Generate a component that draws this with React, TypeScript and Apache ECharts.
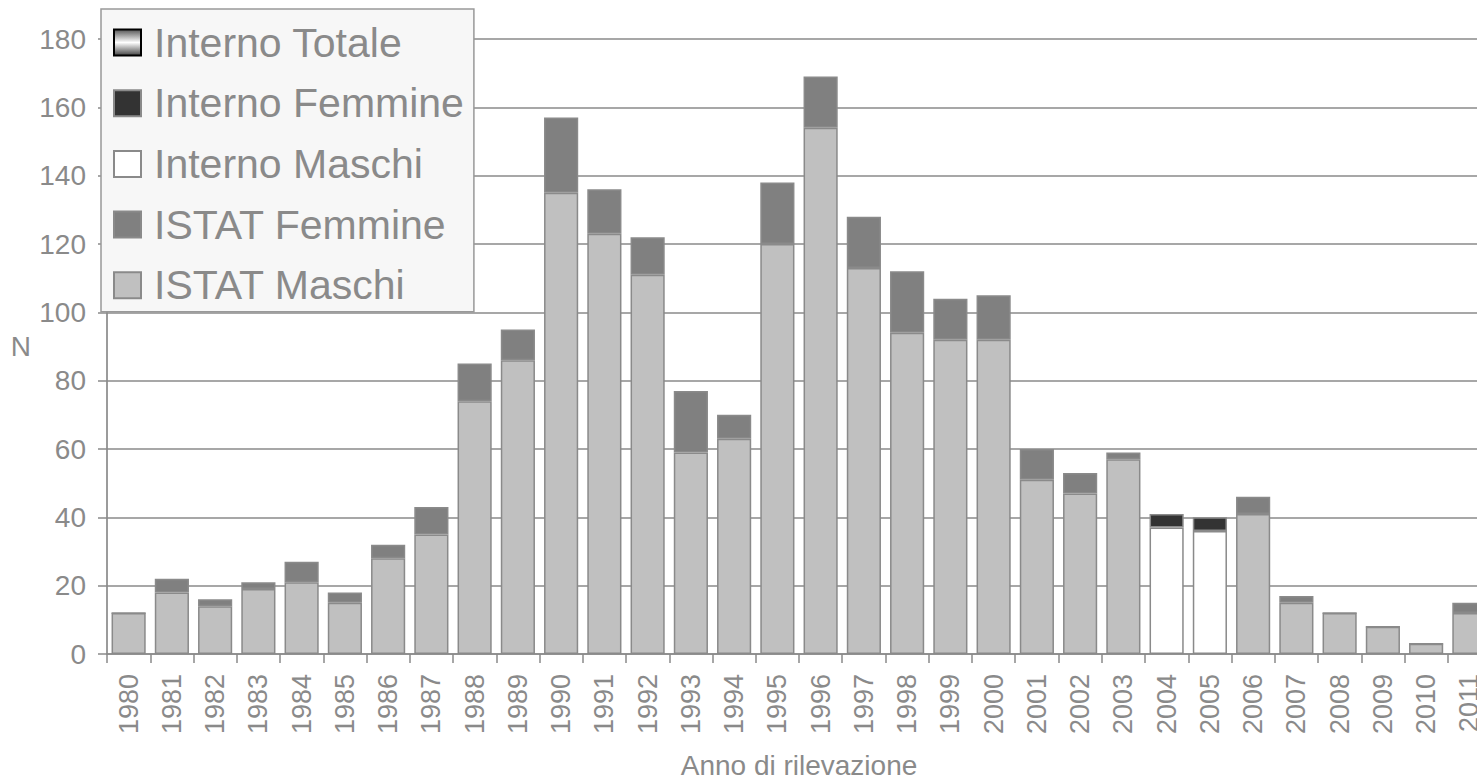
import React, { useEffect, useRef } from "react";
import * as echarts from "echarts";

const years = [
  "1980","1981","1982","1983","1984","1985","1986","1987","1988","1989",
  "1990","1991","1992","1993","1994","1995","1996","1997","1998","1999",
  "2000","2001","2002","2003","2004","2005","2006","2007","2008","2009",
  "2010","2011",
];
const istatMaschi = [12,18,14,19,21,15,28,35,74,86,135,123,111,59,63,120,154,113,94,92,92,51,47,57,null,null,41,15,12,8,3,12];
const istatFemmine = [0,4,2,2,6,3,4,8,11,9,22,13,11,18,7,18,15,15,18,12,13,9,6,2,null,null,5,2,0,0,0,3];
const internoMaschi = [null,null,null,null,null,null,null,null,null,null,null,null,null,null,null,null,null,null,null,null,null,null,null,null,37,36,null,null,null,null,null,null];
const internoFemmine = [null,null,null,null,null,null,null,null,null,null,null,null,null,null,null,null,null,null,null,null,null,null,null,null,4,4,null,null,null,null,null,null];
const internoTotale: (number | null)[] = years.map(() => null);
const yTicks = { min: 0, max: 180, interval: 20 };

const FONT = '"Liberation Sans", Arial, sans-serif';
const TXT = "#8a8a8a";
const LINE = "#8a8a8a";

export default function App() {
  const ref = useRef<HTMLDivElement>(null);
  useEffect(() => {
    if (!ref.current) return;
    const chart = echarts.init(ref.current, null, { renderer: "svg" });
    const border = { borderColor: LINE, borderWidth: 1.5 };
    const bar = (name: string, data: (number | null)[], color: any, extra: any = {}) => ({
      name,
      type: "bar",
      stack: "tot",
      data,
      barWidth: "79%",
      itemStyle: { color, ...border, ...extra },
    });
    chart.setOption({
      animation: false,
      backgroundColor: "#ffffff",
      textStyle: { fontFamily: FONT },
      grid: { left: 107, right: 29, top: 39, bottom: 129, outerBoundsMode: "none", containLabel: false },
      legend: {
        orient: "vertical",
        left: 101,
        top: 9,
        itemWidth: 27,
        itemHeight: 26,
        itemGap: 19.7,
        padding: [13, 10, 6, 12],
        backgroundColor: "#f7f7f7",
        borderColor: "#999999",
        borderWidth: 1.5,
        borderRadius: 0,
        icon: "rect",
        data: ["Interno Totale", "Interno Femmine", "Interno Maschi", "ISTAT Femmine", "ISTAT Maschi"],
        textStyle: { fontSize: 41, lineHeight: 40, color: TXT, fontFamily: FONT, padding: [0, 0, 0, 8] },
      },
      xAxis: {
        type: "category",
        data: years,
        name: "Anno di rilevazione",
        nameLocation: "middle",
        nameGap: 97,
        nameTextStyle: { fontSize: 28, color: TXT, fontFamily: FONT },
        axisLine: { lineStyle: { color: LINE, width: 1.7 } },
        axisTick: { show: true, length: 9, lineStyle: { color: LINE, width: 1.5 } },
        axisLabel: { rotate: 90, fontSize: 27, color: TXT, margin: 20, fontFamily: FONT, interval: 0 },
      },
      yAxis: {
        type: "value",
        min: yTicks.min,
        max: yTicks.max,
        interval: yTicks.interval,
        name: "N",
        nameLocation: "middle",
        nameRotate: 0,
        nameGap: 76,
        nameTextStyle: { fontSize: 28, color: TXT, fontFamily: FONT },
        axisLine: { show: true, lineStyle: { color: LINE, width: 1.7 } },
        axisTick: { show: true, length: 9, lineStyle: { color: LINE, width: 1.5 } },
        axisLabel: { fontSize: 28, color: TXT, margin: 21, fontFamily: FONT },
        splitLine: { lineStyle: { color: LINE, width: 1.7 } },
      },
      series: [
        bar("ISTAT Maschi", istatMaschi, "#c0c0c0"),
        bar("ISTAT Femmine", istatFemmine, "#808080"),
        bar("Interno Maschi", internoMaschi, "#ffffff"),
        bar("Interno Femmine", internoFemmine, "#333333"),
        bar(
          "Interno Totale",
          internoTotale,
          new echarts.graphic.LinearGradient(0, 0, 0, 1, [
            { offset: 0, color: "#555555" },
            { offset: 0.5, color: "#ffffff" },
            { offset: 1, color: "#444444" },
          ]),
          { borderColor: "#000000", borderWidth: 1.5 }
        ),
      ],
    });
    return () => chart.dispose();
  }, []);
  return (
    <div style={{ position: "absolute", left: 0, top: 0, width: 1477, height: 783, overflow: "hidden", background: "#fff" }}>
      <div ref={ref} style={{ width: 1520, height: 783 }} />
    </div>
  );
}
